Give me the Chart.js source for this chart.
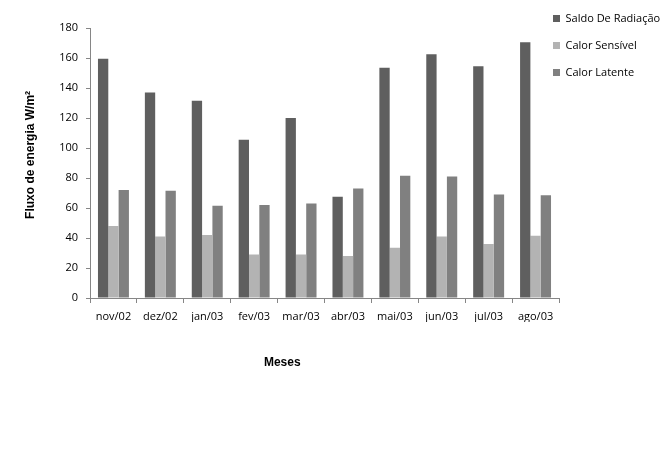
<!DOCTYPE html>
<html><head><meta charset="utf-8">
<script src="https://cdn.jsdelivr.net/npm/chart.js@4"></script>
<style>html,body{margin:0;padding:0;background:#fff}#wrap{width:670px;height:450px}</style>
</head><body><div id="wrap"><canvas id="c" width="670" height="450"></canvas></div>
<script>
const categories = ['nov/02','dez/02','jan/03','fev/03','mar/03','abr/03','mai/03','jun/03','jul/03','ago/03'];
const seriesNames = ['Saldo De Radiação','Calor Sensível','Calor Latente'];
const saldoRadiacao = [159.5,137,131.5,105.5,120,67.5,153.5,162.5,154.5,170.5];
const calorSensivel = [48,41,42,29,29,28,33.5,41,36,41.5];
const calorLatente = [72,71.5,61.5,62,63,73,81.5,81,69,68.5];
const yTitle = 'Fluxo de energia W/m²';
const xTitle = 'Meses';
const yMin = 0, yMax = 180, yStep = 20;

const tickFont = {family:'"Open Sans", sans-serif', size:11};
const titleFont = 'bold 12px "Liberation Sans", Arial, sans-serif';
const axisColor = '#868686';

const legendSpace = {
  id:'legendSpace',
  beforeInit(chart){
    const lg = chart.legend;
    const fit = lg.fit;
    lg.fit = function(){ fit.call(this); this.width = 111; };
  },
  afterLayout(chart){
    const lg = chart.legend;
    lg.left = chart.chartArea.right - 22;
    lg.right = chart.width;
    lg.width = lg.right - lg.left;
    lg.top = -3;
  }
};
const axisTitles = {
  id:'axisTitles',
  afterDraw(chart){
    const {ctx, chartArea} = chart;
    ctx.save();
    ctx.font = titleFont;
    ctx.fillStyle = '#000';
    ctx.textAlign = 'center';
    ctx.textBaseline = 'middle';
    ctx.fillText(xTitle, chartArea.left + 0.41*(chartArea.right - chartArea.left), 363);
    ctx.translate(31, chartArea.top + 0.47*(chartArea.bottom - chartArea.top));
    ctx.rotate(-Math.PI/2);
    ctx.fillText(yTitle, 0, 0);
    ctx.restore();
  }
};

new Chart(document.getElementById('c'), {
  type:'bar',
  data:{
    labels: categories,
    datasets:[
      {label: seriesNames[0], data: saldoRadiacao, backgroundColor:'#5f5f5f', borderWidth:0},
      {label: seriesNames[1], data: calorSensivel, backgroundColor:'#b3b3b3', borderWidth:0},
      {label: seriesNames[2], data: calorLatente, backgroundColor:'#808080', borderWidth:0}
    ]
  },
  options:{
    responsive:false,
    animation:false,
    devicePixelRatio:1,
    datasets:{bar:{barPercentage:1, categoryPercentage:0.66}},
    layout:{padding:{top:28, right:0, bottom:128, left:0}},
    plugins:{
      tooltip:{enabled:false},
      legend:{
        position:'right', align:'start',
        labels:{boxWidth:7, boxHeight:7, padding:16, color:'#000', font:tickFont}
      }
    },
    scales:{
      x:{
        grid:{display:true, drawOnChartArea:false, drawTicks:true, tickLength:5, color:axisColor},
        border:{color:axisColor},
        ticks:{font:tickFont, color:'#000', padding:7, maxRotation:0, autoSkip:false},
        afterFit(s){ s.height = 24; }
      },
      y:{
        min:yMin, max:yMax,
        grid:{display:true, drawOnChartArea:false, drawTicks:true, tickLength:4, color:axisColor},
        border:{color:axisColor},
        ticks:{stepSize:yStep, font:tickFont, color:'#000', padding:8},
        afterFit(s){ s.width = 90; }
      }
    }
  },
  plugins:[legendSpace, axisTitles]
});
</script></body></html>
